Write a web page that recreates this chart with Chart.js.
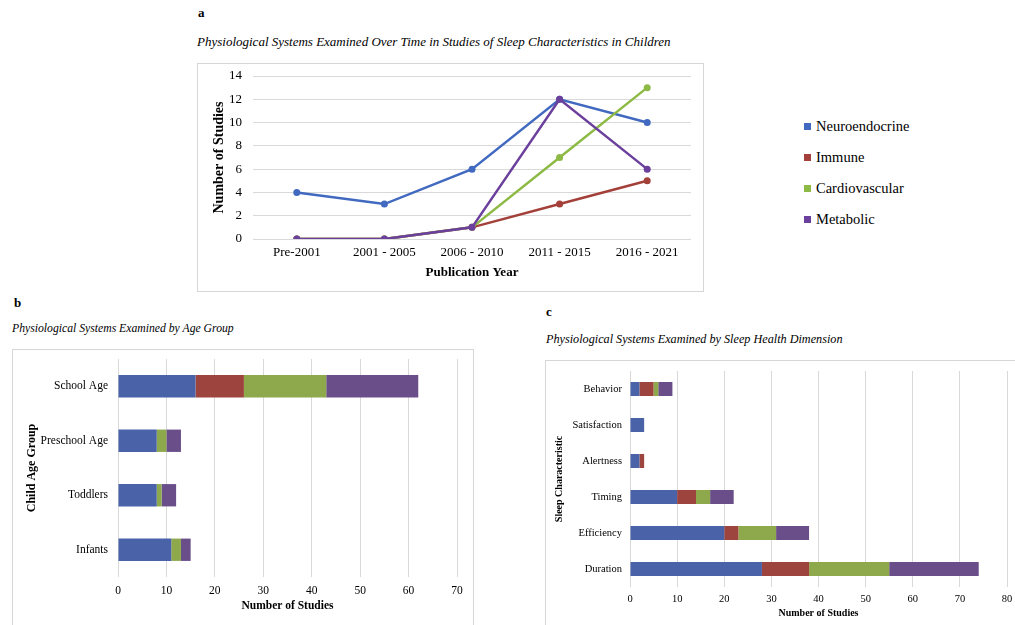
<!DOCTYPE html>
<html>
<head>
<meta charset="utf-8">
<script src="https://cdn.jsdelivr.net/npm/chart.js@4.4.0/dist/chart.umd.min.js"></script>
<style>
  html, body { margin:0; padding:0; background:#fff; }
  body { width:1015px; height:625px; position:relative; overflow:hidden; font-family:"Liberation Serif","Times New Roman",serif; color:#000; }
  .abs { position:absolute; }
  .lbl { position:absolute; line-height:16px; white-space:nowrap; }
  .panel { font-weight:bold; font-size:13px; }
  .ttl { font-style:italic; font-size:13px; }
  .box { position:absolute; border:1px solid #d6d6d6; box-sizing:border-box; }
  .leg { position:absolute; font-size:14.5px; line-height:16px; white-space:nowrap; }
  .leg span.sw { position:absolute; left:-12px; top:5px; width:7px; height:7px; }
</style>
</head>
<body>
<div class="lbl panel" style="left:198px;top:5px;">a</div>
<div class="lbl ttl" style="left:197px;top:34px;">Physiological Systems Examined Over Time in Studies of Sleep Characteristics in Children</div>
<div class="lbl panel" style="left:14px;top:295px;">b</div>
<div class="lbl ttl" style="left:12px;top:321px;font-size:11.7px;">Physiological Systems Examined by Age Group</div>
<div class="lbl panel" style="left:546px;top:304px;">c</div>
<div class="lbl ttl" style="left:546px;top:331px;font-size:12.2px;">Physiological Systems Examined by Sleep Health Dimension</div>

<div class="box" style="left:197px;top:63px;width:507px;height:229px;"></div>
<div class="box" style="left:12px;top:349px;width:462px;height:280px;"></div>
<div class="box" style="left:545px;top:360px;width:480px;height:280px;"></div>

<div class="abs" style="left:197px;top:63px;width:506px;height:228px;"><canvas id="ca" width="506" height="228"></canvas></div>
<div class="abs" style="left:12px;top:349px;width:461px;height:276px;"><canvas id="cb" width="461" height="276"></canvas></div>
<div class="abs" style="left:545px;top:360px;width:470px;height:265px;"><canvas id="cc" width="470" height="265"></canvas></div>
<div id="legend"></div>

<script>
// ---------- data ----------
const systems = ['Neuroendocrine', 'Immune', 'Cardiovascular', 'Metabolic'];

const periods = ['Pre-2001', '2001 - 2005', '2006 - 2010', '2011 - 2015', '2016 - 2021'];
const neuroOverTime     = [4, 3, 6, 12, 10];
const immuneOverTime    = [0, 0, 1, 3, 5];
const cardioOverTime    = [0, 0, 1, 7, 13];
const metabolicOverTime = [0, 0, 1, 12, 6];

const ageGroups = ['School Age', 'Preschool Age', 'Toddlers', 'Infants'];
const neuroByAge     = [16, 8, 8, 11];
const immuneByAge    = [10, 0, 0, 0];
const cardioByAge    = [17, 2, 1, 2];
const metabolicByAge = [19, 3, 3, 2];

const sleepDims = ['Behavior', 'Satisfaction', 'Alertness', 'Timing', 'Efficiency', 'Duration'];
const neuroBySleep     = [2, 3, 2, 10, 20, 28];
const immuneBySleep    = [3, 0, 1, 4, 3, 10];
const cardioBySleep    = [1, 0, 0, 3, 8, 17];
const metabolicBySleep = [3, 0, 0, 5, 7, 19];

const yTicksA = { min: 0, max: 14, step: 2 };
const xTicksB = { min: 0, max: 70, step: 10 };
const xTicksC = { min: 0, max: 80, step: 10 };

// ---------- styles ----------
const lineColors = ['#4169c0', '#a4403a', '#8dba45', '#6b3f9c'];
const barColors  = ['#4a63a8', '#9e443e', '#8ea94b', '#6a4e8a'];
const FONT = '"Liberation Serif", "Times New Roman", serif';
const grid = '#d9d9d9';

Chart.defaults.font.family = FONT;
Chart.defaults.color = '#000';
Chart.defaults.animation = false;

// remove automatic label overflow padding so layout padding is exact
const fixV = (w) => (s) => { s.width = w; s.paddingTop = 0; s.paddingBottom = 0; };
const fixH = (h) => (s) => { s.height = h; s.paddingLeft = 0; s.paddingRight = 0; };

// legend (HTML)
const legEl = document.getElementById('legend');
const legY = [126, 157, 188, 219];
systems.forEach((s, i) => {
  const d = document.createElement('div');
  d.className = 'leg';
  d.style.left = '816px';
  d.style.top = (legY[i] - 8) + 'px';
  d.innerHTML = '<span class="sw" style="background:' + lineColors[i] + '"></span>' + s;
  legEl.appendChild(d);
});

// ---------- chart a ----------
const seriesA = [neuroOverTime, immuneOverTime, cardioOverTime, metabolicOverTime];
new Chart(document.getElementById('ca'), {
  type: 'line',
  data: {
    labels: periods,
    datasets: systems.map((s, i) => ({
      label: s,
      data: seriesA[i],
      borderColor: lineColors[i],
      backgroundColor: lineColors[i],
      borderWidth: 2.5,
      pointRadius: 3.5,
      pointBorderWidth: 0,
      tension: 0,
      order: 3 - i
    }))
  },
  options: {
    responsive: false,
    layout: { padding: { left: 0, right: 12, top: 13, bottom: 0 } },
    plugins: { legend: { display: false }, tooltip: { enabled: false } },
    scales: {
      x: {
        offset: true,
        grid: { display: false, drawTicks: false },
        border: { display: false },
        ticks: { padding: 6, font: { size: 13 }, maxRotation: 0 },
        title: { display: true, text: 'Publication Year', font: { size: 13, weight: 'bold' }, padding: { top: 0, bottom: 11 } },
        afterFit: fixH(52)
      },
      y: {
        min: yTicksA.min, max: yTicksA.max,
        grid: { color: grid, drawTicks: false, lineWidth: 1 },
        border: { display: false },
        ticks: { stepSize: yTicksA.step, padding: 11, font: { size: 13 } },
        title: { display: true, text: 'Number of Studies', font: { size: 14, weight: 'bold' }, padding: { top: 13.6, bottom: 0 } },
        afterFit: fixV(56)
      }
    }
  }
});

// ---------- chart b ----------
const seriesB = [neuroByAge, immuneByAge, cardioByAge, metabolicByAge];
new Chart(document.getElementById('cb'), {
  type: 'bar',
  data: {
    labels: ageGroups,
    datasets: systems.map((s, i) => ({
      label: s,
      data: seriesB[i],
      backgroundColor: barColors[i],
      borderWidth: 0,
      categoryPercentage: 1,
      barPercentage: 0.41
    }))
  },
  options: {
    indexAxis: 'y',
    responsive: false,
    layout: { padding: { left: 0, right: 16, top: 10, bottom: 0 } },
    plugins: { legend: { display: false }, tooltip: { enabled: false } },
    scales: {
      x: {
        stacked: true,
        min: xTicksB.min, max: xTicksB.max,
        grid: { color: grid, drawTicks: false },
        border: { display: false },
        ticks: { stepSize: xTicksB.step, padding: 7, font: { size: 11.5 } },
        title: { display: true, text: 'Number of Studies', font: { size: 11.5, weight: 'bold' }, padding: { top: 0, bottom: 12 } },
        afterFit: fixH(48)
      },
      y: {
        stacked: true,
        grid: { display: false, drawTicks: false },
        border: { display: false },
        ticks: { padding: 10, font: { size: 11.5 } },
        title: { display: true, text: 'Child Age Group', font: { size: 12, weight: 'bold' }, padding: { top: 12.8, bottom: 0 } },
        afterFit: fixV(106)
      }
    }
  }
});

// ---------- chart c ----------
const seriesC = [neuroBySleep, immuneBySleep, cardioBySleep, metabolicBySleep];
new Chart(document.getElementById('cc'), {
  type: 'bar',
  data: {
    labels: sleepDims,
    datasets: systems.map((s, i) => ({
      label: s,
      data: seriesC[i],
      backgroundColor: barColors[i],
      borderWidth: 0,
      categoryPercentage: 1,
      barPercentage: 0.39
    }))
  },
  options: {
    indexAxis: 'y',
    responsive: false,
    layout: { padding: { left: 0, right: 8, top: 11, bottom: 0 } },
    plugins: { legend: { display: false }, tooltip: { enabled: false } },
    scales: {
      x: {
        stacked: true,
        min: xTicksC.min, max: xTicksC.max,
        grid: { color: grid, drawTicks: false },
        border: { display: false },
        ticks: { stepSize: xTicksC.step, padding: 5.7, font: { size: 10.5 } },
        title: { display: true, text: 'Number of Studies', font: { size: 10, weight: 'bold' }, padding: { top: 0, bottom: 6 } },
        afterFit: fixH(38)
      },
      y: {
        stacked: true,
        grid: { display: false, drawTicks: false },
        border: { display: false },
        ticks: { padding: 8, font: { size: 10.5 } },
        title: { display: true, text: 'Sleep Characteristic', font: { size: 10, weight: 'bold' }, padding: { top: 8, bottom: 0 } },
        afterFit: fixV(85)
      }
    }
  }
});
</script>
</body>
</html>
